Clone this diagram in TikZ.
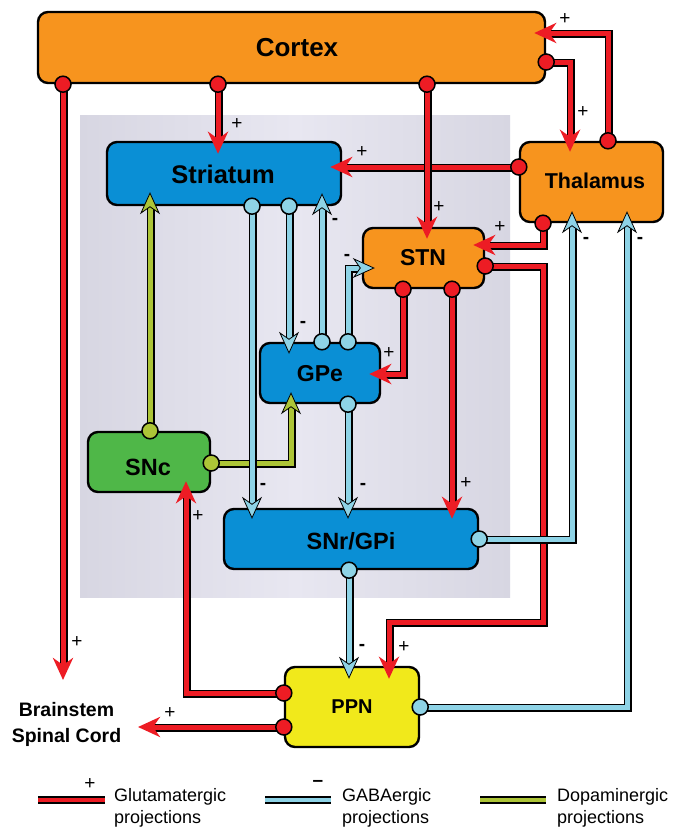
\documentclass[tikz,border=0pt]{standalone}
\usepackage{fontspec}
\setmainfont{Liberation Sans}
\usetikzlibrary{arrows.meta,calc}
\definecolor{ctx}{HTML}{F7941E}
\definecolor{blu}{HTML}{0A8FD5}
\definecolor{grn}{HTML}{4FB748}
\definecolor{yel}{HTML}{F1E91B}
\definecolor{glu}{HTML}{ED1C24}
\definecolor{gaba}{HTML}{8ED3E6}
\definecolor{dopa}{HTML}{ADC537}
\definecolor{bgL}{HTML}{D7D6E2}
\definecolor{bgM}{HTML}{E8E7F1}
\tikzset{
  region/.style={draw=black, line width=2.4pt, rounded corners=10pt, inner sep=0pt},
  shadowline/.style={draw=black, line width=7.6pt, line join=miter,
     transform canvas={xshift=0.8pt,yshift=-0.8pt}, shorten >=15pt},
  gluline/.style={draw=glu, line width=5pt, line join=miter,
     -{Stealth[length=22pt,width=20pt,inset=7pt]}},
  gabaline/.style={draw=gaba, line width=5pt, line join=miter,
     -{Stealth[length=22pt,width=20pt,inset=7pt,color=black,fill=gaba,line width=0.8pt]}},
  dopaline/.style={draw=dopa, line width=5pt, line join=miter,
     -{Stealth[length=22pt,width=20pt,inset=7pt,color=black,fill=dopa,line width=0.8pt]}},
  dglu/.style={fill=glu, draw=black, line width=1.5pt},
  dgaba/.style={fill=gaba, draw=black, line width=1.5pt},
  ddopa/.style={fill=dopa, draw=black, line width=1.5pt},
  sgn/.style={font=\fontsize{19}{19}\selectfont, inner sep=0pt},
  legtext/.style={anchor=west, align=left, inner sep=0pt, font=\fontsize{18}{22}\selectfont},
}
\newcommand\proj[4]{%
  \draw[shadowline] #3 #4;
  \draw[#1] #3 #4;
  \draw[#2] #3 circle[radius=8pt];
}
\begin{document}
\begin{tikzpicture}[x=1pt,y=-1pt]
\useasboundingbox (0,0) rectangle (678,830);
\fill[white] (0,0) rectangle (678,830);
% background panel
\shade[left color=bgL, right color=bgL, middle color=bgM] (80,115) rectangle (510,597);

% regions
\node[region, fill=ctx, minimum width=507pt, minimum height=71pt] (cortex) at (291.5,47.5) {};
\node[font=\bfseries\fontsize{26}{26}\selectfont] (cortexT) at (297,47.5) {Cortex};
\node[region, fill=blu, minimum width=234pt, minimum height=63pt] (striatum) at (224,173.5) {};
\node[font=\bfseries\fontsize{25.5}{25.5}\selectfont] (striatumT) at (223,174) {Striatum};
\node[region, fill=ctx, minimum width=143pt, minimum height=80pt] (thalamus) at (591.5,182) {};
\node[font=\bfseries\fontsize{21.5}{21.5}\selectfont] (thalamusT) at (595,181) {Thalamus};
\node[region, fill=ctx, minimum width=121pt, minimum height=60pt] (stn) at (423.5,258) {};
\node[font=\bfseries\fontsize{23}{23}\selectfont] (stnT) at (423,258) {STN};
\node[region, fill=blu, minimum width=120pt, minimum height=60pt] (gpe) at (320,373) {};
\node[font=\bfseries\fontsize{23}{23}\selectfont] (gpeT) at (320,374) {GPe};
\node[region, fill=grn, minimum width=122pt, minimum height=60pt] (snc) at (149,462) {};
\node[font=\bfseries\fontsize{23.5}{23.5}\selectfont] (sncT) at (148,467) {SNc};
\node[region, fill=blu, minimum width=254pt, minimum height=60pt] (snr) at (351,539) {};
\node[font=\bfseries\fontsize{23.5}{23.5}\selectfont] (snrT) at (351,541) {SNr/GPi};
\node[region, fill=yel, minimum width=134pt, minimum height=80pt] (ppn) at (352,707) {};
\node[font=\bfseries\fontsize{20}{20}\selectfont] (ppnT) at (352,707) {PPN};
\node[font=\bfseries\fontsize{19.5}{26}\selectfont, align=center] (brainstem) at (66.5,724) {Brainstem\\Spinal Cord};
\coordinate (bsTop) at (63,680);
\coordinate (bsRight) at (138,727);

% dopaminergic
\proj{dopaline}{ddopa}{(snc.east |- 0,463)}{-| ($(gpe.south -| 291,0)+(0,-12)$)}
\proj{dopaline}{ddopa}{(snc.north -| 150,0)}{-- ($(striatum.south -| 150,0)+(0,-14)$)}

% glutamatergic
\proj{gluline}{dglu}{(cortex.south -| 218,0)}{-- ($(striatum.north -| 218,0)+(0,13)$)}
\proj{gluline}{dglu}{(cortex.south -| 63,0)}{-- (bsTop)}
\proj{gluline}{dglu}{(thalamus.west |- 0,167)}{-- ($(striatum.east |- 0,167)+(-12,0)$)}
\proj{gluline}{dglu}{(cortex.south -| 427,0)}{-- ($(stn.north -| 427,0)+(0,12)$)}
\proj{gluline}{dglu}{(cortex.east |- 0,62)}{-| ($(thalamus.north -| 570,0)+(0,11)$)}
\proj{gluline}{dglu}{(thalamus.north -| 608,0)}{|- ($(cortex.east |- 0,33)+(-12,0)$)}
\proj{gluline}{dglu}{(thalamus.south -| 543,0)}{|- ($(stn.east |- 0,245)+(-12,0)$)}
\proj{gluline}{dglu}{(stn.south -| 403,0)}{|- ($(gpe.east |- 0,374)+(-12,0)$)}
\proj{gluline}{dglu}{(stn.south -| 452,0)}{-- ($(snr.north -| 452,0)+(0,11)$)}
\proj{gluline}{dglu}{(stn.east |- 0,266)}{-| (543,622) -| ($(ppn.north -| 389,0)+(0,13)$)}
\proj{gluline}{dglu}{(ppn.west |- 0,693)}{-| ($(snc.south -| 186,0)+(0,-12)$)}
\proj{gluline}{dglu}{(ppn.west |- 0,727)}{-- (bsRight)}

% GABAergic
\proj{gabaline}{dgaba}{(striatum.south -| 252,0)}{-- ($(snr.north -| 252,0)+(0,11)$)}
\proj{gabaline}{dgaba}{(striatum.south -| 289,0)}{-- ($(gpe.north -| 289,0)+(0,12)$)}
\proj{gabaline}{dgaba}{(gpe.north -| 322,0)}{-- ($(striatum.south -| 322,0)+(0,-13)$)}
\proj{gabaline}{dgaba}{(gpe.north -| 348,0)}{|- ($(stn.west |- 0,268)+(13,0)$)}
\proj{gabaline}{dgaba}{(gpe.south -| 348,0)}{-- ($(snr.north -| 348,0)+(0,11)$)}
\proj{gabaline}{dgaba}{(snr.east |- 0,539)}{-| ($(thalamus.south -| 572,0)+(0,-12)$)}
\proj{gabaline}{dgaba}{(snr.south -| 349,0)}{-- ($(ppn.north -| 349,0)+(0,13)$)}
\proj{gabaline}{dgaba}{(ppn.east |- 0,707)}{-| ($(thalamus.south -| 627,0)+(0,-12)$)}

% signs
\node[sgn] (p1) at (237,124) {+};
\node[sgn] (p2) at (77,642) {+};
\node[sgn] (p3) at (439,207) {+};
\node[sgn] (p4) at (583,112) {+};
\node[sgn] (p5) at (565,19) {+};
\node[sgn] (p6) at (362,152) {+};
\node[sgn] (p7) at (500,227) {+};
\node[sgn] (p8) at (389,353) {+};
\node[sgn] (p9) at (466,483) {+};
\node[sgn] (p10) at (404,647) {+};
\node[sgn] (p11) at (198,516) {+};
\node[sgn] (p12) at (170,713) {+};
\node[sgn] (m1) at (335,221) {\bfseries -};
\node[sgn] (m2) at (303,324) {\bfseries -};
\node[sgn] (m3) at (347,257) {\bfseries -};
\node[sgn] (m4) at (263,486) {\bfseries -};
\node[sgn] (m5) at (363,486) {\bfseries -};
\node[sgn] (m6) at (586,240) {\bfseries -};
\node[sgn] (m7) at (640,240) {\bfseries -};
\node[sgn] (m8) at (362,647) {\bfseries -};

% legend
\draw[black, line width=8pt] (38,800) -- (105,800);
\draw[glu, line width=4pt] (38,799.5) -- (105,799.5);
\node[sgn] (lp) at (90,784) {+};
\node[legtext] (lgGlu) at (114,808) {Glutamatergic\\projections};
\draw[black, line width=8pt] (265,800) -- (331,800);
\draw[gaba, line width=4pt] (265,799.5) -- (331,799.5);
\node[sgn] (lm) at (318,783) {\bfseries –};
\node[legtext] (lgGaba) at (342,808) {GABAergic\\projections};
\draw[black, line width=8pt] (480,800) -- (546,800);
\draw[dopa, line width=4pt] (480,799.5) -- (546,799.5);
\node[legtext] (lgDopa) at (557,808) {Dopaminergic\\projections};
\end{tikzpicture}
\end{document}
